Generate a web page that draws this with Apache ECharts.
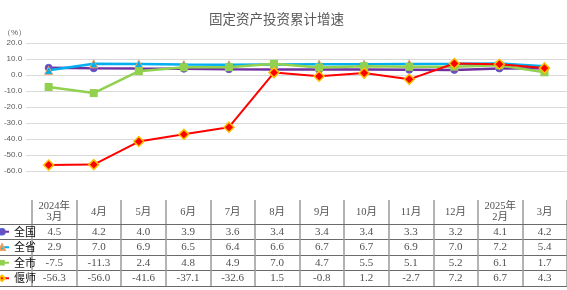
<!DOCTYPE html>
<html><head><meta charset="utf-8">
<script src="https://cdn.jsdelivr.net/npm/echarts/dist/echarts.min.js"></script>
<style>html,body{margin:0;padding:0;background:#fff}#c{width:567px;height:290px}</style>
</head><body><div id="c"></div>
<script>
var months = ['2024年3月','4月','5月','6月','7月','8月','9月','10月','11月','12月','2025年2月','3月'];
var headerLabels = ['2024年\n3月','4月','5月','6月','7月','8月','9月','10月','11月','12月','2025年\n2月','3月'];
var seriesNames = ['全国','全省','全市','偃师'];
var national = [4.5,4.2,4.0,3.9,3.6,3.4,3.4,3.4,3.3,3.2,4.1,4.2];
var province = [2.9,7.0,6.9,6.5,6.4,6.6,6.7,6.7,6.9,7.0,7.2,5.4];
var city = [-7.5,-11.3,2.4,4.8,4.9,7.0,4.7,5.5,5.1,5.2,6.1,1.7];
var yanshi = [-56.3,-56.0,-41.6,-37.1,-32.6,1.5,-0.8,1.2,-2.7,7.2,6.7,4.3];
var yTicks = {min:-60, max:20, interval:10};

var allValues = [national, province, city, yanshi];
var colors = ['#7030a0','#00b0f0','#92d050','#ff0000'];
var symbols = ['circle','triangle','rect','diamond'];
var symSizes = [7,8,8,10];
var serif = "'Liberation Serif','Noto Sans CJK SC',serif";

var chart = echarts.init(document.getElementById('c'), null, {renderer:'canvas'});
var series = [];
allValues.forEach(function(vals, k){
  series.push({
    name: seriesNames[k], type:'line', xAxisIndex:0, yAxisIndex:0,
    data: vals, symbol: symbols[k], symbolSize: symSizes[k],
    lineStyle:{color: colors[k], width: k===3?2:2.5},
    itemStyle:{color: k===0?'#7a45b5':colors[k],
      borderColor: k===3?'#ffc000':(k===1?'#e8a060':(k===0?'#5a5ad0':colors[k])),
      borderWidth: k===3?1.5:(k===1?1:(k===0?1:0))},
    z: 2+k
  });
});
// header cells
series.push({
  name:'hdr', type:'scatter', xAxisIndex:1, yAxisIndex:1, symbolSize:0.1,
  itemStyle:{color:'rgba(0,0,0,0)'}, silent:true,
  data: months.map(function(m,i){return [i,0];}),
  label:{show:true, position:'inside', formatter:function(p){return headerLabels[p.dataIndex];},
    fontFamily:serif, fontSize:10.5, lineHeight:11, color:'#222'}
});
// body cells
allValues.forEach(function(vals, k){
  series.push({
    name:'row'+k, type:'scatter', xAxisIndex:2, yAxisIndex:2, symbolSize:0.1,
    itemStyle:{color:'rgba(0,0,0,0)'}, silent:true,
    data: vals.map(function(v,i){return [i,k,v];}),
    label:{show:true, position:'inside', formatter:function(p){return p.value[2].toFixed(1);},
      fontFamily:serif, fontSize:11, color:'#222'}
  });
});

var hidden = {axisLine:{show:false},axisTick:{show:false},axisLabel:{show:false},splitLine:{show:false}};
function ext(a,b){var o={};for(var k in a)o[k]=a[k];for(var k2 in b)o[k2]=b[k2];return o;}
var vSplit = {show:true, interval:0, lineStyle:{color:'#9a9a9a', width:1.5}};

chart.setOption({
  animation:false,
  title:{text:'固定资产投资累计增速', left:204, top:7,
    textStyle:{fontFamily:"'Noto Sans CJK SC',sans-serif", fontSize:13.5, fontWeight:'normal', color:'#595959'}},
  legend:{data:seriesNames, orient:'vertical', left:-6, top:226, padding:0,
    itemWidth:14, itemHeight:7, itemGap:4,
    textStyle:{fontFamily:"'Noto Sans CJK SC',sans-serif", fontSize:11, color:'#111', lineHeight:11.5}},
  grid:[
    {left:21, right:0, top:43, height:128},
    {left:32, right:-11, top:200, height:24},
    {left:32, right:-11, top:224, height:62},
    {left:0, right:0, top:200, height:24},
    {left:0, right:0, top:224, height:62}
  ],
  xAxis:[
    ext(hidden,{type:'category', gridIndex:0, data:months, boundaryGap:true}),
    ext(hidden,{type:'category', gridIndex:1, data:months, boundaryGap:true, splitLine:vSplit}),
    ext(hidden,{type:'category', gridIndex:2, data:months, boundaryGap:true, splitLine:vSplit}),
    ext(hidden,{type:'value', gridIndex:3, min:0, max:1, position:'top', axisLine:{show:true, lineStyle:{color:'#6a6a6a', width:1}}}),
    ext(hidden,{type:'value', gridIndex:4, min:0, max:1})
  ],
  yAxis:[
    {type:'value', gridIndex:0, min:yTicks.min, max:yTicks.max, interval:yTicks.interval,
      name:'（%）', nameLocation:'end', nameGap:6,
      nameTextStyle:{fontSize:8, color:'#595959', align:'right', padding:[0,0,0,0]},
      axisLine:{show:false}, axisTick:{show:false},
      axisLabel:{fontSize:8, color:'#595959', margin:4, formatter:function(v){return v.toFixed(1);}},
      splitLine:{lineStyle:{color:'#d9d9d9', width:1}}},
    ext(hidden,{type:'category', gridIndex:1, data:['h']}),
    ext(hidden,{type:'category', gridIndex:2, data:[0,1,2,3], inverse:true}),
    ext(hidden,{type:'value', gridIndex:3, min:0, max:1}),
    ext(hidden,{type:'category', gridIndex:4, data:[0,1,2,3], inverse:true,
      splitLine:{show:true, interval:0, lineStyle:{color:'#6a6a6a', width:1}}})
  ],
  series: series
});
</script></body></html>
